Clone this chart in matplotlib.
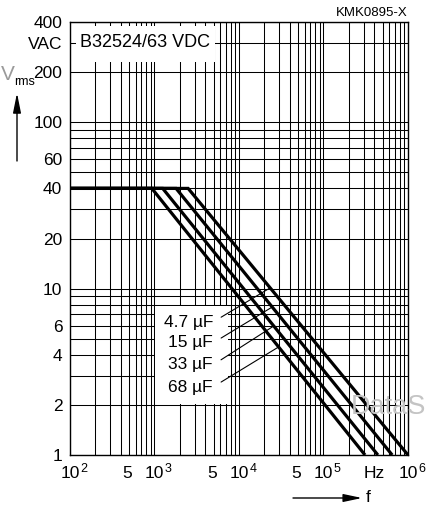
import numpy as np
import matplotlib
matplotlib.use('Agg')
import matplotlib.pyplot as plt
from matplotlib.patches import Rectangle
from matplotlib.transforms import ScaledTranslation, blended_transform_factory

plt.rcParams['font.family'] = ['Liberation Sans', 'DejaVu Sans']

# Permissible AC voltage vs. frequency for B32524/63 VDC
capacitance = ['4.7 µF', '15 µF', '33 µF', '68 µF']
f_start = 1e2                                  # Hz
v_plateau = 40                                 # V rms
f_corner = [2500, 1800, 1250, 930]             # Hz, end of flat section
f_end = [1.0e6, 6.5e5, 4.4e5, 3.1e5]           # Hz, where curve reaches v_end
v_end = 1                                      # V rms
label_v = [10.1, 7.75, 5.96, 4.46]             # V where leader lines meet curves
label_y = [0.307, 0.2587, 0.2079, 0.157]       # label rows (axes fraction)

y_ticks = [1, 2, 4, 6, 10, 20, 40, 60, 100, 200, 300, 400]
y_ticklabels = ['1', '2', '4', '6', '10', '20', '40', '60', '100', '200', 'VAC', '400']
x_decades = [2, 3, 4, 5, 6]
x_fives = [5e2, 5e3, 5e4]

FS = 12.5
W, H = 427, 505
fig = plt.figure(figsize=(W / 100, H / 100), dpi=100)
ax = fig.add_axes([70 / W, 1 - 455 / H, 338 / W, 433 / H])
ax.set_xscale('log')
ax.set_yscale('log')
ax.set_xlim(1e2, 1e6)
ax.set_ylim(1, 400)

# full log grid: every integer multiple in each decade
xg = [m * 10 ** d for d in range(2, 6) for m in range(1, 10)] + [1e6]
yg = [m * 10 ** d for d in range(0, 3) for m in range(1, 10)] + [400]
for x in xg:
    ax.axvline(x, color='black', lw=0.75, zorder=1)
for y in yg:
    ax.axhline(y, color='black', lw=0.75, zorder=1)

ax.set_xticks([])
ax.set_xticks([], minor=True)
ax.set_yticks(y_ticks)
ax.set_yticklabels(y_ticklabels, fontsize=FS)
ax.set_yticks([], minor=True)
ax.tick_params(axis='y', length=0, pad=5.5)
for s in ax.spines.values():
    s.set_linewidth(1.0)
    s.set_color('black')

# watermark
fig.text(426 / W, 1 - 407 / H, 'DataS', fontsize=19.5, color='#c4c4c4',
         va='center', ha='right', zorder=2)

# white panels behind title and labels
ax.add_patch(Rectangle((0.0178, 0.9076), 0.411, 0.083, transform=ax.transAxes,
                       facecolor='white', edgecolor='none', zorder=2))
ax.add_patch(Rectangle((0.2515, 0.118), 0.2155, 0.226, transform=ax.transAxes,
                       facecolor='white', edgecolor='none', zorder=2))
ax.text(773, 300, 'B32524/63 VDC', fontsize=13, ha='center', va='center', zorder=3)

# curves
for fc, fe in zip(f_corner, f_end):
    ax.plot([f_start, fc, fe], [v_plateau, v_plateau, v_end], color='black',
            lw=2.3, solid_capstyle='butt', solid_joinstyle='miter', zorder=5, clip_on=True)

# labels with leader lines
for name, fc, fe, lv, ly in zip(capacitance, f_corner, f_end, label_v, label_y):
    lf = 10 ** np.interp(np.log10(lv), [np.log10(v_end), np.log10(v_plateau)],
                         [np.log10(fe), np.log10(fc)])
    ax.annotate(name, xy=(lf, lv), xycoords='data', xytext=(0.423, ly),
                textcoords='axes fraction', ha='right', va='center', fontsize=FS,
                zorder=4,
                arrowprops=dict(arrowstyle='-', lw=0.8, color='black',
                                shrinkA=4.5, shrinkB=0, relpos=(1, 0.5)))

# x tick labels
bt = blended_transform_factory(ax.transData, ax.transAxes)
def off(dx, dy):
    return bt + ScaledTranslation(dx / 100, dy / 100, fig.dpi_scale_trans)

for d in x_decades:
    ax.text(10 ** d, 0, '10', transform=off(0, -19), ha='center', va='center',
            fontsize=FS, clip_on=False)
    ax.text(10 ** d, 0, str(d), transform=off(10.5, -13.5), ha='left', va='center',
            fontsize=9, clip_on=False)
for f5 in x_fives:
    ax.text(f5, 0, '5', transform=off(-1.5, -19), ha='center', va='center',
            fontsize=FS, clip_on=False)
ax.text(4e5, 0, 'Hz', transform=off(0, -19), ha='center', va='center',
        fontsize=FS, clip_on=False)

# axis arrows and quantity symbols
fig.add_artist(matplotlib.patches.FancyArrowPatch(
    (17 / W, 1 - 161 / H), (17 / W, 1 - 93 / H), transform=fig.transFigure,
    arrowstyle='-|>,head_length=0.85,head_width=0.17', mutation_scale=14,
    color='black', lw=1.0, shrinkA=0, shrinkB=0))
fig.add_artist(matplotlib.patches.FancyArrowPatch(
    (293 / W, 1 - 498 / H), (362 / W, 1 - 498 / H), transform=fig.transFigure,
    arrowstyle='-|>,head_length=0.8,head_width=0.17', mutation_scale=14,
    color='black', lw=1.0, shrinkA=0, shrinkB=0))
fig.text(366 / W, 1 - 497 / H, 'f', fontsize=FS, ha='left', va='center')
fig.text(1 / W, 1 - 74 / H, 'V', fontsize=15, ha='left', va='center', color='#9a9a9a')
fig.text(14 / W, 1 - 82 / H, 'rms', fontsize=9, ha='left', va='center')
fig.text(408 / W, 1 - 13 / H, 'KMK0895-X', fontsize=9.5, ha='right', va='center')

fig.savefig('out.png', dpi=100)
